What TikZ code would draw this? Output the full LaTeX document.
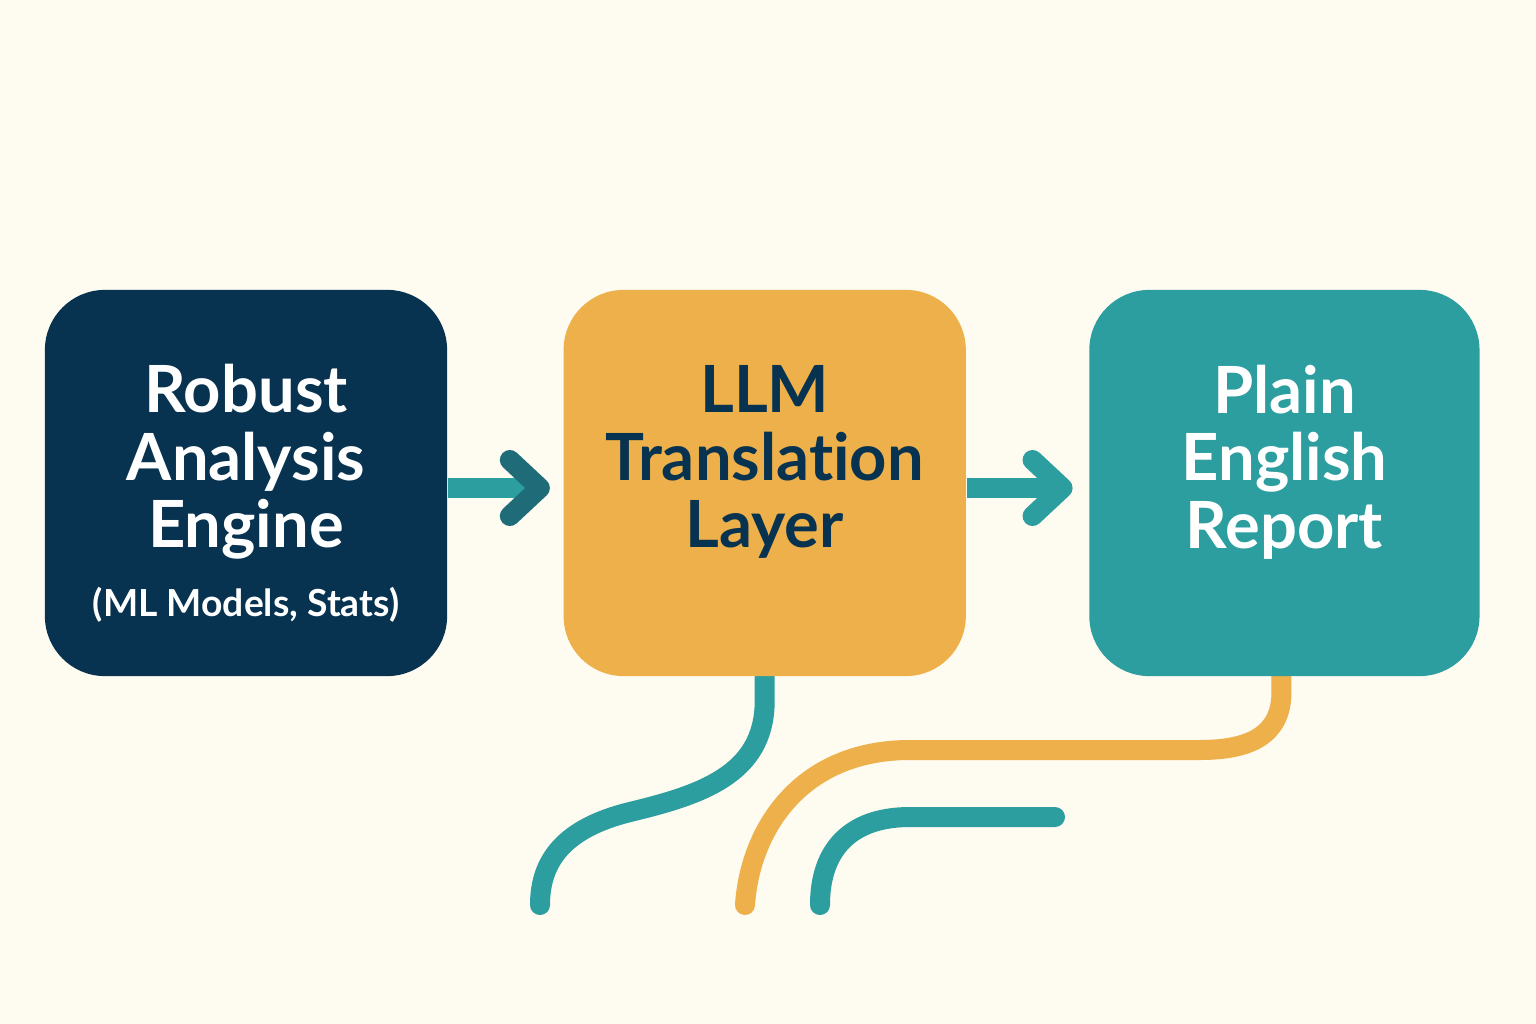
\documentclass[tikz,border=0pt]{standalone}
\usepackage{fontspec}
\setmainfont{Lato}[Ligatures=NoCommon]
\usetikzlibrary{arrows.meta, positioning}

\definecolor{cream}{HTML}{FEFBF1}
\definecolor{navy}{HTML}{083350}
\definecolor{amber}{HTML}{EDB04A}
\definecolor{tealc}{HTML}{2C9EA0}
\definecolor{tealdark}{HTML}{1F6B78}

\pgfdeclarelayer{wires}
\pgfsetlayers{wires,main}

\tikzset{
  box/.style={rounded corners=0.6cm, minimum width=4.02cm, minimum height=3.86cm, inner sep=0pt},
  title/.style={align=center, font=\fontsize{18.5}{19.2}\selectfont\bfseries},
  subtitle/.style={align=center, font=\fontsize{10.6}{13}\selectfont\bfseries},
  flow/.style={line width=0.2cm, tealc},
  wire/.style={line width=0.2cm, line cap=round},
}

\begin{document}
\begin{tikzpicture}[x=0.01cm, y=-0.01cm]

\useasboundingbox (0,0) rectangle (1536,1024);

% the three stages
\node [box, fill=navy ] at (246,483)                         (engine) {};
\node [box, fill=amber, right=1.15cm of engine             ] (llm)    {};
\node [box, fill=tealc, right=1.22cm of llm, minimum width=3.9cm] (report) {};

\node [title, text=white] at ([yshift=0.21cm]engine.center) (t1) {Robust\\Analysis\\Engine};
\node [subtitle, text=white, below=0.03cm of t1] (s1) {(ML Models, Stats)};
\node [title, text=navy ] at ([yshift=0.21cm]llm.center)    (t2) {LLM\\Translation\\Layer};
\node [title, text=white] at ([yshift=0.21cm]report.center) (t3) {Plain\\English\\Report};

% arrows between stages
\draw [flow, -{Straight Barb[length=0.3cm, width=0.56cm, line cap=round, line join=round, color=tealdark]}, shorten >=0.13cm] (engine.east |- 0,488) -- (llm.west |- 0,488);
\draw [flow, -{Straight Barb[length=0.3cm, width=0.56cm, line cap=round, line join=round]}, shorten >=0.16cm] (llm.east |- 0,488) -- (report.west |- 0,488);

% loose ends underneath
\coordinate (e1) at (540,905);
\coordinate (e2) at (745,905);
\coordinate (e3) at (820,905);
\coordinate (f3) at (1055,817);

\begin{pgfonlayer}{wires}
\fill [cream] (0,0) rectangle (1536,1024);
\draw [wire, tealc] (llm.south) -- ++(0,25) .. controls (764,775) and (700,795) .. (630,812) .. controls (565,828) and (540,860) .. (e1);
\draw [wire, amber] ([xshift=-0.03cm]report.south) -- ++(0,18) .. controls (1280,735) and (1250,750) .. (1200,750) -- (910,750) .. controls (800,750) and (750,830) .. (e2);
\draw [wire, tealc] (f3) -- (910,817) .. controls (850,817) and (820,850) .. (e3);
\end{pgfonlayer}

\end{tikzpicture}
\end{document}
